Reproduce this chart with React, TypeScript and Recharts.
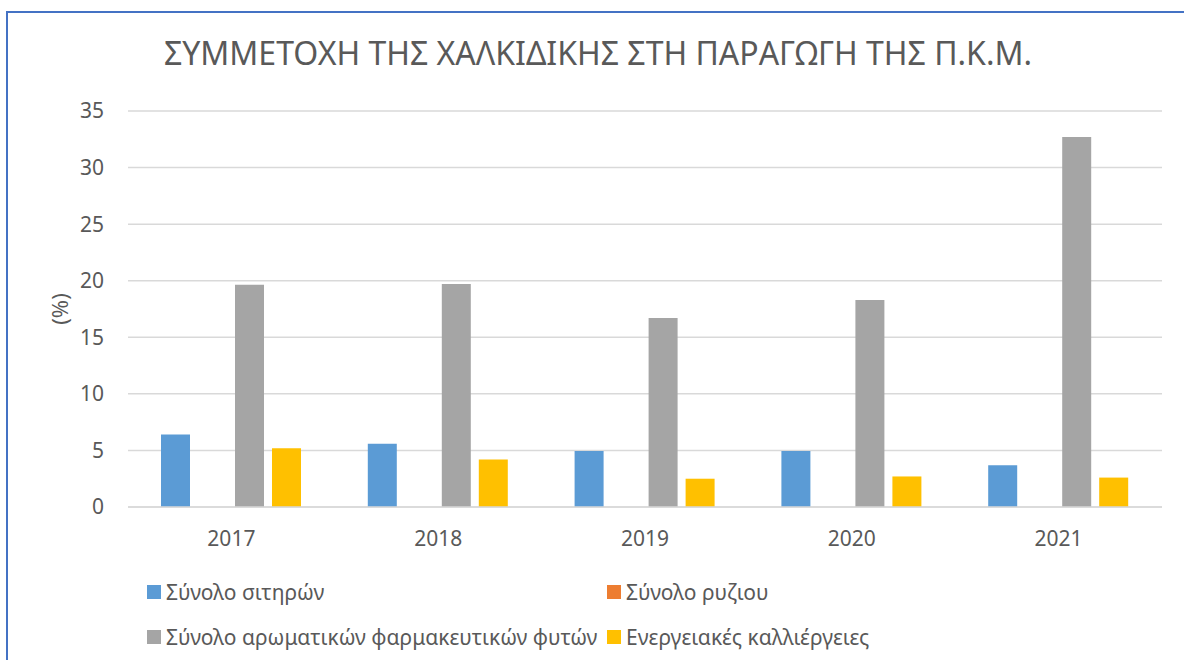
import React from 'react';
import { BarChart, Bar, XAxis, YAxis, CartesianGrid } from 'recharts';

const years = ['2017', '2018', '2019', '2020', '2021'];
const sitiron = [6.4, 5.6, 4.95, 4.95, 3.7];
const ryziou = [0, 0, 0, 0, 0];
const aromatikon = [19.65, 19.7, 16.7, 18.3, 32.7];
const energeiakes = [5.2, 4.2, 2.5, 2.7, 2.6];
const yTicks = [0, 5, 10, 15, 20, 25, 30, 35];

const seriesNames = [
  'Σύνολο σιτηρών',
  'Σύνολο ρυζιου',
  'Σύνολο αρωματικών φαρμακευτικών φυτών',
  'Ενεργειακές καλλιέργειες',
];
const seriesColors = ['#5B9BD5', '#ED7D31', '#A5A5A5', '#FFC000'];
const title = 'ΣΥΜΜΕΤΟΧΗ ΤΗΣ ΧΑΛΚΙΔΙΚΗΣ ΣΤΗ ΠΑΡΑΓΩΓΗ ΤΗΣ Π.Κ.Μ.';

const data = years.map((y, i) => ({
  year: y,
  s0: sitiron[i],
  s1: ryziou[i],
  s2: aromatikon[i],
  s3: energeiakes[i],
}));

const FONT = '"Noto Sans", "Open Sans", sans-serif';
const TEXT = '#595959';

const YLabel = (props: any) => {
  const vb = props.viewBox || {};
  const cx = vb.x - 9;
  const cy = vb.y + vb.height / 2;
  return (
    <text
      x={cx}
      y={cy}
      transform={`rotate(-90 ${cx} ${cy})`}
      textAnchor="middle"
      dominantBaseline="central"
      fill={TEXT}
      fontSize={22}
      fontFamily={FONT}
    >
      (%)
    </text>
  );
};

const legendPos = [
  { left: 147, top: 592 },
  { left: 607, top: 592 },
  { left: 147, top: 637 },
  { left: 607, top: 637 },
];

export default function App() {
  return (
    <div style={{ position: 'absolute', left: 0, top: 0, width: 1184, height: 660, overflow: 'hidden', background: '#fff' }}>
      <div
        style={{
          position: 'absolute',
          left: 6,
          top: 11,
          width: 1300,
          height: 800,
          border: '2px solid #4472C4',
          boxSizing: 'border-box',
        }}
      />
      <div
        style={{
          position: 'absolute',
          left: 6,
          top: 37,
          width: 1184,
          textAlign: 'center',
          fontFamily: FONT,
          fontSize: 32,
          lineHeight: '32px',
          color: TEXT,
          whiteSpace: 'nowrap',
        }}
      >
        {title}
      </div>
      <div style={{ position: 'absolute', left: 0, top: 0 }}>
        <BarChart
          width={1184}
          height={660}
          data={data}
          margin={{ top: 111, right: 22, left: 68, bottom: 113 }}
          barSize={29}
          barGap={8}
        >
          <CartesianGrid horizontal vertical={false} stroke="#D9D9D9" strokeWidth={1.5} />
          <XAxis
            dataKey="year"
            height={40}
            axisLine={{ stroke: '#D9D9D9', strokeWidth: 1.5 }}
            tickLine={false}
            tickSize={0}
            tickMargin={24}
            tick={{ fill: TEXT, fontSize: 21, fontFamily: FONT }}
          />
          <YAxis
            width={60}
            domain={[0, 35]}
            ticks={yTicks}
            axisLine={false}
            tickLine={false}
            tickSize={0}
            tickMargin={24}
            tick={{ fill: TEXT, fontSize: 21, fontFamily: FONT }}
            label={<YLabel />}
          />
          {seriesNames.map((n, i) => (
            <Bar key={n} dataKey={`s${i}`} name={n} fill={seriesColors[i]} isAnimationActive={false} />
          ))}
        </BarChart>
      </div>
      {seriesNames.map((n, i) => (
        <div
          key={n}
          style={{
            position: 'absolute',
            left: legendPos[i].left,
            top: legendPos[i].top - 15,
            height: 30,
            display: 'flex',
            alignItems: 'center',
            whiteSpace: 'nowrap',
            fontFamily: FONT,
            fontSize: 21,
            color: TEXT,
          }}
        >
          <span style={{ display: 'inline-block', width: 14, height: 14, background: seriesColors[i], marginRight: 5 }} />
          <span>{n}</span>
        </div>
      ))}
    </div>
  );
}
